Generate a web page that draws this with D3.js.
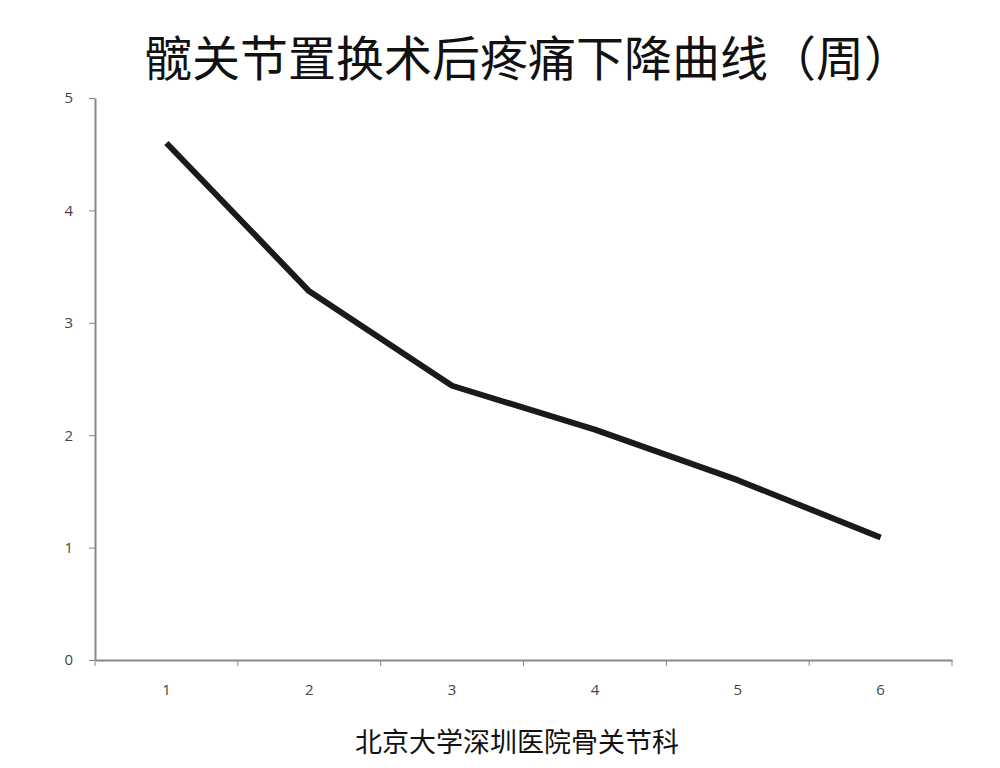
<!DOCTYPE html>
<html><head><meta charset="utf-8">
<script src="https://cdn.jsdelivr.net/npm/d3@7"></script>
<style>body{margin:0;background:#fff}</style></head>
<body><svg id="c" width="1000" height="768"></svg>
<script>
const weeks = ["1","2","3","4","5","6"];
const pain = [4.6, 3.28, 2.44, 2.05, 1.6, 1.09];
const yTicks = [0,1,2,3,4,5];
const title = "髋关节置换术后疼痛下降曲线（周）";
const footer = "北京大学深圳医院骨关节科";

const svg = d3.select("#c");
const x = d3.scaleBand().domain(weeks).range([95, 952]);
const y = d3.scaleLinear().domain([0,5]).range([660, 98]);

const xa = svg.append("g").attr("transform","translate(0,660)")
  .call(d3.axisBottom(x).tickSize(0).tickPadding(24));
xa.selectAll("line.bt").data(d3.range(7)).enter().append("line")
  .attr("x1",i=>95+i*x.step()).attr("x2",i=>95+i*x.step()).attr("y1",0).attr("y2",6)
  .attr("stroke","#888");
svg.append("g").attr("transform","translate(95,0)")
  .call(d3.axisLeft(y).tickValues(yTicks).tickFormat(d3.format("d")).tickSize(6).tickPadding(16).tickSizeOuter(0));
svg.selectAll(".domain").attr("stroke","#888").attr("stroke-width",2);
svg.selectAll(".tick line").attr("stroke","#888");
svg.selectAll(".tick text").attr("font-family","Open Sans, sans-serif").attr("font-size",15).attr("fill","#444");

svg.append("path").datum(pain)
  .attr("d", d3.line().x((d,i)=>x(weeks[i])+x.bandwidth()/2).y(d=>y(d)))
  .attr("fill","none").attr("stroke","#1a1a1a").attr("stroke-width",6).attr("stroke-linejoin","round");

svg.append("text").attr("x",528).attr("y",76).attr("text-anchor","middle")
  .attr("font-family","Noto Sans CJK SC").attr("font-size",48).attr("fill","#111").text(title);
svg.append("text").attr("x",517).attr("y",752).attr("text-anchor","middle")
  .attr("font-family","Noto Sans CJK SC").attr("font-size",27).attr("fill","#111").text(footer);
</script></body></html>
